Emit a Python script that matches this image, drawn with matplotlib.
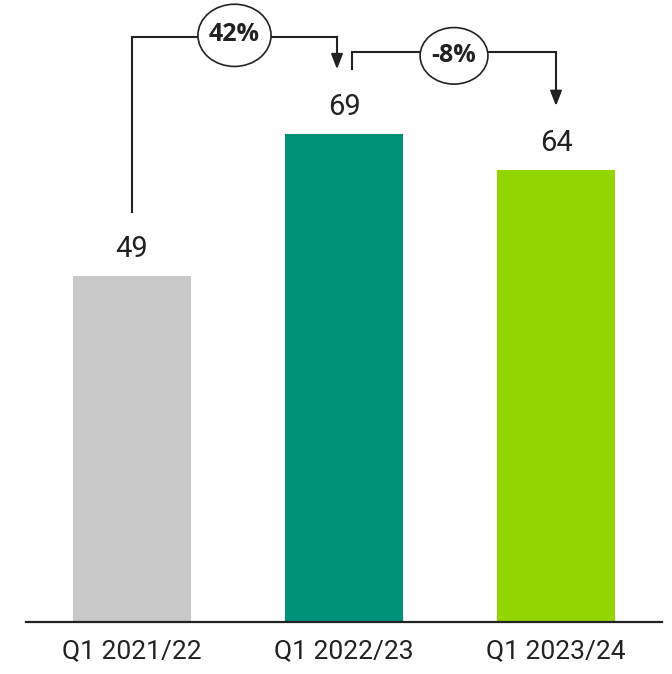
from matplotlib import pyplot as plt
from matplotlib.patches import Ellipse

plt.rcParams['font.family'] = ['Roboto', 'DejaVu Sans']

quarters = ['Q1 2021/22', 'Q1 2022/23', 'Q1 2023/24']
values = [49, 69, 64]
colors = ['#C8C8C8', '#00917A', '#93D500']
changes = ['42%', '-8%']

ink = '#222222'

fig = plt.figure(figsize=(6.72, 6.74), dpi=100)
ax = fig.add_axes([26/672, 52/674, 636/672, 622/674])

xs = list(range(len(values)))
ax.bar(xs, values, width=0.557, color=colors)

for x, v in zip(xs, values):
    ax.text(x, v + 3.8, str(v), ha='center', va='center', fontsize=21, color=ink)

ax.set_xlim(-0.5, 2.5)
ax.set_ylim(0, 88.0)
ax.set_xticks(xs)
ax.set_xticklabels(quarters, fontsize=19, color=ink)
ax.tick_params(axis='x', length=0, pad=12)
ax.set_yticks([])
for s in ['top', 'left', 'right']:
    ax.spines[s].set_visible(False)
ax.spines['bottom'].set_color(ink)
ax.spines['bottom'].set_linewidth(1.6)

lw = 1.5
arrow = dict(arrowstyle='-|>,head_length=0.9,head_width=0.35', color=ink, lw=lw,
             shrinkA=0, shrinkB=0)
pct_font = dict(fontsize=18, fontweight='bold', family=['Open Sans', 'DejaVu Sans'],
                color=ink, zorder=4, ha='center', va='center')

# bracket 1: bar 0 -> bar 1
x0, x1 = xs[0], xs[1] - 0.033
top1 = values[1] + 13.8
ax.plot([x0, x0, x1], [values[0] + 9, top1, top1], color=ink, lw=lw,
        solid_joinstyle='miter')
ax.annotate('', xy=(x1, values[1] + 9.2), xytext=(x1, top1), arrowprops=arrow)
ax.add_patch(Ellipse(((x0 + x1) / 2, top1 + 0.2), 0.345, 8.8, fc='white', ec=ink, lw=1.2, zorder=3))
ax.text((x0 + x1) / 2, top1 + 0.3, changes[0], **pct_font)

# bracket 2: bar 1 -> bar 2
x0, x1 = xs[1] + 0.038, xs[2]
top2 = values[1] + 11.6
ax.plot([x0, x0, x1], [values[1] + 9.2, top2, top2], color=ink, lw=lw,
        solid_joinstyle='miter')
ax.annotate('', xy=(x1, values[2] + 9), xytext=(x1, top2), arrowprops=arrow)
ax.add_patch(Ellipse(((x0 + x1) / 2, top2 - 0.5), 0.32, 8.0, fc='white', ec=ink, lw=1.2, zorder=3))
ax.text((x0 + x1) / 2, top2 - 0.4, changes[1], **pct_font)

plt.savefig('out.png', dpi=100)
